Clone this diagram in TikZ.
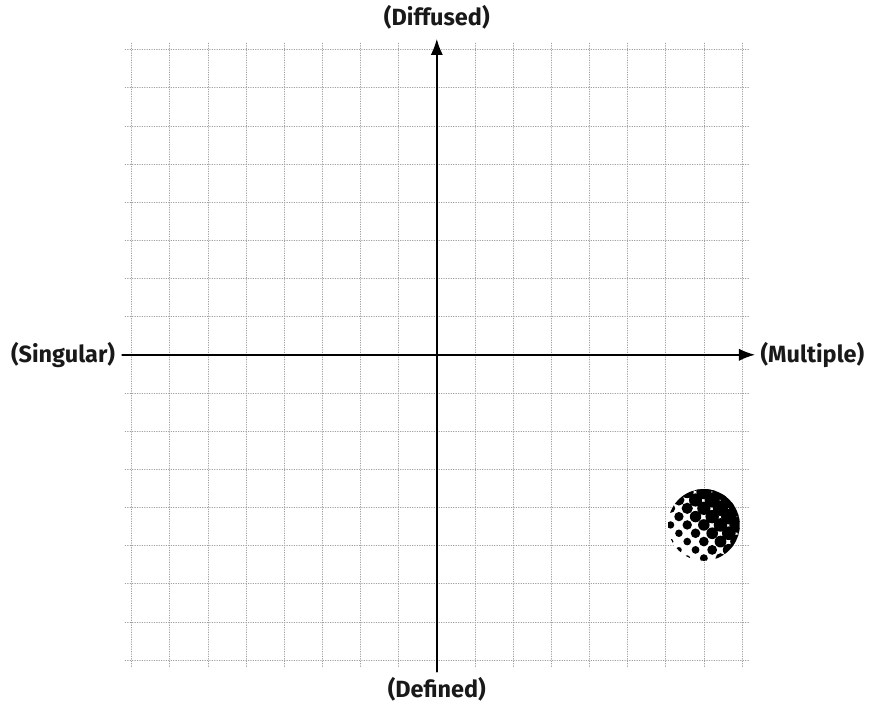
\documentclass[tikz,border=0pt]{standalone}
\usepackage{fontspec}
\setmainfont{Fira Sans}
\usepackage{tikz}
\usetikzlibrary{calc}
\usetikzlibrary{arrows.meta,positioning}

\begin{document}
\begin{tikzpicture}[
  x=1cm,y=1cm,
  line cap=round,line join=round,
  gridline/.style={gray!75,line width=0.5pt,dash pattern=on 0.5pt off 1.3pt},
  axis/.style={line width=1.1pt,-{Latex[length=4.2mm,width=3.2mm]}},
  pole/.style={font=\fontsize{17.5}{20}\selectfont\bfseries,text=black!90,inner sep=0pt}
]
  \useasboundingbox (-11.45,-9.15) rectangle (11.355,9.30);

  % Dotted grid
  \foreach \k in {-8,...,8}{
    \draw[gridline] (\k,-8.17) -- (\k,8.17);
    \draw[gridline] (-8.17,\k) -- (8.17,\k);
  }

  % Axis ends
  \coordinate (west)  at (-8.25,0);
  \coordinate (east)  at (8.34,0);
  \coordinate (south) at (0,-8.31);
  \coordinate (north) at (0,8.28);

  \draw[axis] (west) -- (east);
  \draw[axis] (south) -- (north);

  % Labels
  \node[pole,left=5pt of west]   (singular) {(Singular)};
  \node[pole,right=4pt of east]  (multiple) {(Multiple)};
  \node[pole,above=7pt of north] (diffused) {(Diffused)};
  \node[pole,below=4pt of south] (defined)  {(Defined)};

  % Halftone disc
  \def\R{0.94}
  \def\s{0.218}
  \coordinate (disc) at (7.0,-4.46);
  \fill[white] (disc) circle (\R);
  \begin{scope}[shift={(disc)}]
    \clip (0,0) circle (\R);
    \foreach \i in {-6,...,6}{
      \foreach \j in {-6,...,6}{
        \pgfmathsetmacro\hx{\s*(\i+\j)}
        \pgfmathsetmacro\hy{\s*(\i-\j)}
        \pgfmathsetmacro\ht{max(0,min(1,((0.75*\hx+0.65*\hy)/\R+1.3)/2.1))}
        \fill[black] (\hx,\hy) circle ({0.05+0.163*\ht});
      }
    }
  \end{scope}
\end{tikzpicture}
\end{document}
